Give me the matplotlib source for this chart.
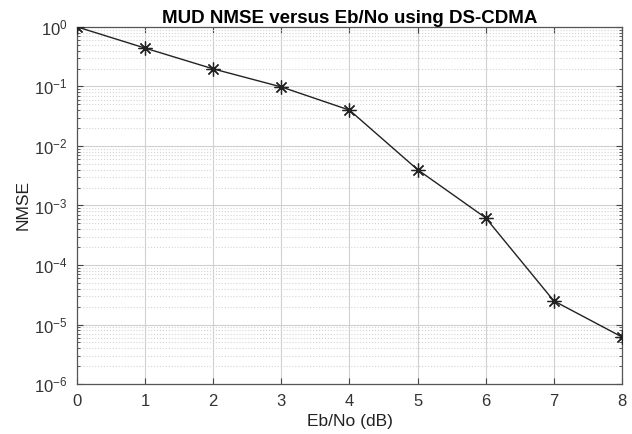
import numpy as np
import matplotlib
matplotlib.use('Agg')
import matplotlib.pyplot as plt

# Dados
ebno_db = [0, 1, 2, 3, 4, 5, 6, 7, 8]
nmse = [1.0, 0.44, 0.197, 0.098, 0.040, 0.0040, 6.2e-4, 2.5e-5, 6.2e-6]
x_ticks = [0, 1, 2, 3, 4, 5, 6, 7, 8]

plt.rcParams['font.family'] = ['Liberation Sans', 'DejaVu Sans']

fig = plt.figure(figsize=(6.32, 4.34), dpi=100)
ax = fig.add_axes([0.122, 0.115, 0.862, 0.823])

# marcador asterisco estilo MATLAB (8 pontas)
ax.semilogy(ebno_db, nmse, color='#222222', linewidth=1.0, marker=(8, 2, 0),
            markersize=10, markeredgewidth=0.9, zorder=3)

ax.set_xlim(0, 8)
ax.set_ylim(1e-6, 1)
ax.set_xticks(x_ticks)

# Grade estilo MATLAB
ax.grid(True, which='major', color='#d0d0d0', linestyle='-', linewidth=0.8)
ax.grid(True, which='minor', color='#d4d4d4', linestyle=':', linewidth=0.8)
ax.set_axisbelow(True)

ax.tick_params(which='both', direction='in', top=True, right=True, colors='#444444',
               labelcolor='#333333', labelsize=12, pad=7)
ax.tick_params(which='major', length=4)
ax.tick_params(which='minor', length=2)
for s in ax.spines.values():
    s.set_color('#555555')
    s.set_linewidth(0.9)

ax.set_title('MUD NMSE versus Eb/No using DS-CDMA', fontsize=13.5, fontweight='bold', pad=3)
ax.set_xlabel('Eb/No (dB)', fontsize=12.5, color='#222222', labelpad=4)
ax.set_ylabel('NMSE', fontsize=12.5, color='#222222', labelpad=2)

fig.savefig('out.png', dpi=100)
